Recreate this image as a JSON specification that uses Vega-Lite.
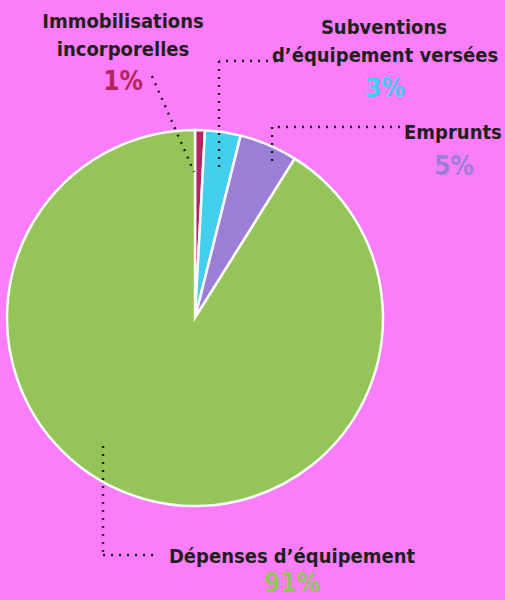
{
  "$schema": "https://vega.github.io/schema/vega-lite/v6.json",
  "width": 376,
  "height": 376,
  "autosize": {"type": "none"},
  "padding": {"left": 7, "top": 130, "right": 122, "bottom": 94},
  "background": "#fb7dfa",
  "config": {"view": {"stroke": null}},
  "datasets": {
    "slices": [
      {"category": "Immobilisations incorporelles", "share": 0.0085, "order": 1},
      {"category": "Subventions d’équipement versées", "share": 0.0305, "order": 2},
      {"category": "Emprunts", "share": 0.05, "order": 3},
      {"category": "Dépenses d’équipement", "share": 0.911, "order": 4}
    ],
    "titles": [
      {"text": "Immobilisations", "x": -0.383, "y": 1.543},
      {"text": "incorporelles", "x": -0.383, "y": 1.394},
      {"text": "Subventions", "x": 1.005, "y": 1.511},
      {"text": "d’équipement versées", "x": 1.011, "y": 1.362},
      {"text": "Emprunts", "x": 1.372, "y": 0.952},
      {"text": "Dépenses d’équipement", "x": 0.516, "y": -1.303}
    ],
    "pctpos": [
      {"category": "Immobilisations incorporelles", "x": -0.383, "y": 1.213},
      {"category": "Subventions d’équipement versées", "x": 1.011, "y": 1.176},
      {"category": "Emprunts", "x": 1.378, "y": 0.761},
      {"category": "Dépenses d’équipement", "x": 0.516, "y": -1.46}
    ],
    "leaders": [
      {"x": -0.229, "y": 1.287, "x2": -0.005, "y2": 0.777},
      {"x": 0.431, "y": 1.367, "x2": 0.128, "y2": 1.367},
      {"x": 0.128, "y": 1.367, "x2": 0.128, "y2": 0.798},
      {"x": 1.09, "y": 1.016, "x2": 0.41, "y2": 1.016},
      {"x": 0.41, "y": 1.016, "x2": 0.41, "y2": 0.803},
      {"x": -0.489, "y": -0.681, "x2": -0.489, "y2": -1.261},
      {"x": -0.489, "y": -1.261, "x2": -0.197, "y2": -1.261}
    ]
  },
  "layer": [
    {
      "data": {"name": "slices"},
      "mark": {"type": "arc", "stroke": "white", "strokeWidth": 2.5},
      "encoding": {
        "theta": {"field": "share", "type": "quantitative", "stack": true},
        "order": {"field": "order", "type": "quantitative"},
        "color": {
          "field": "category",
          "type": "nominal",
          "legend": null,
          "scale": {
            "domain": ["Immobilisations incorporelles", "Subventions d’équipement versées", "Emprunts", "Dépenses d’équipement"],
            "range": ["#b5245e", "#41cfeb", "#9b7fd6", "#95c459"]
          }
        }
      }
    },
    {
      "data": {"name": "leaders"},
      "mark": {"type": "rule", "color": "#1a1a1a", "strokeWidth": 2.4, "strokeDash": [2, 6]},
      "encoding": {
        "x": {"field": "x", "type": "quantitative", "scale": {"domain": [-1, 1], "nice": false, "zero": false}, "axis": null},
        "y": {"field": "y", "type": "quantitative", "scale": {"domain": [-1, 1], "nice": false, "zero": false}, "axis": null},
        "x2": {"field": "x2"},
        "y2": {"field": "y2"}
      }
    },
    {
      "data": {"name": "titles"},
      "mark": {"type": "text", "font": "DejaVu Sans Condensed, sans-serif", "fontWeight": "bold", "fontSize": 20, "color": "#231f20", "align": "center", "baseline": "alphabetic"},
      "encoding": {
        "x": {"field": "x", "type": "quantitative"},
        "y": {"field": "y", "type": "quantitative"},
        "text": {"field": "text"}
      }
    },
    {
      "data": {"name": "slices"},
      "transform": [
        {"lookup": "category", "from": {"data": {"name": "pctpos"}, "key": "category", "fields": ["x", "y"]}}
      ],
      "mark": {"type": "text", "font": "DejaVu Sans Condensed, sans-serif", "fontWeight": "bold", "fontSize": 26, "align": "center", "baseline": "alphabetic"},
      "encoding": {
        "x": {"field": "x", "type": "quantitative"},
        "y": {"field": "y", "type": "quantitative"},
        "text": {"field": "share", "type": "quantitative", "format": ".0%"},
        "color": {"field": "category", "type": "nominal", "legend": null}
      }
    }
  ]
}
